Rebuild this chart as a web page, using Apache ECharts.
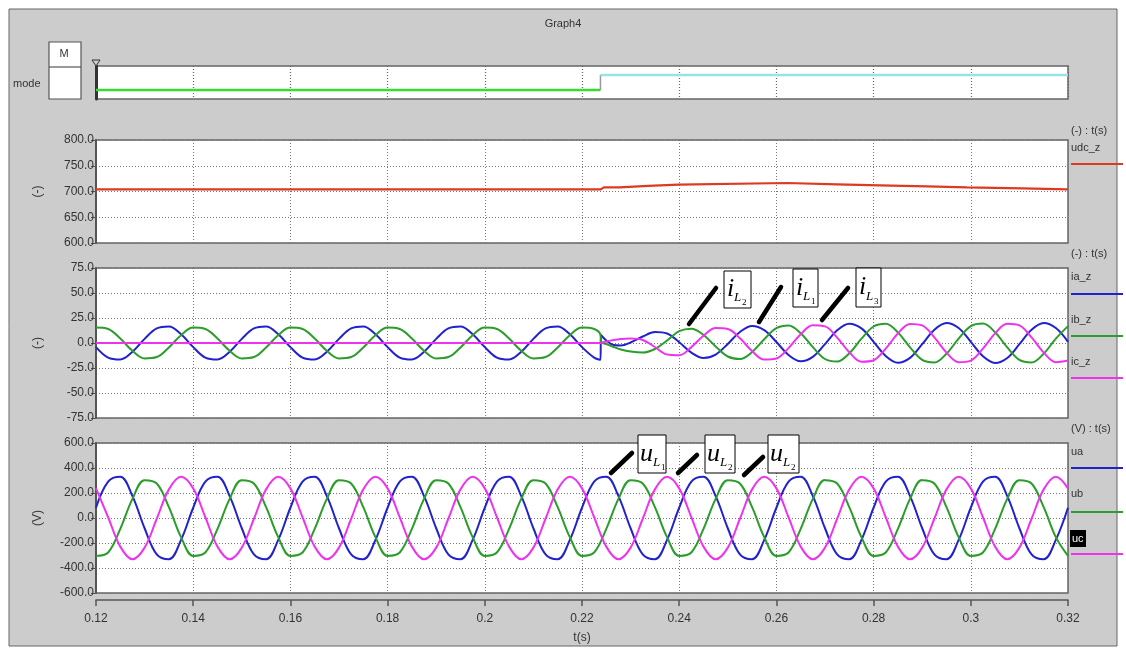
<!DOCTYPE html>
<html><head><meta charset="utf-8">
<script src="https://cdn.jsdelivr.net/npm/echarts@6/dist/echarts.min.js"></script>
<style>html,body{margin:0;padding:0;background:#fff}#c{width:1126px;height:650px}</style>
</head><body><div id="c"></div>
<script>
// ---------- DATA ----------
const modeT = [0.12, 0.2238, 0.2238, 0.32];
const modeV = [0, 0, 1, 1];

const tU  = [0.12, 0.2238, 0.2245, 0.2278, 0.2282, 0.2336, 0.234, 0.2398, 0.2402, 0.2622, 0.2626, 0.2725, 0.2729, 0.2813, 0.2817, 0.291, 0.2914, 0.2992, 0.2996, 0.3107, 0.3111, 0.32];
const udc = [704, 704, 708, 708, 711, 711, 713.5, 713.5, 716.5, 716.5, 714, 714, 712, 712, 710, 710, 708, 708, 706, 706, 704, 704];

const tI = [0.12, 0.1225, 0.125, 0.1275, 0.13, 0.1325, 0.135, 0.1375, 0.14, 0.1425, 0.145, 0.1475, 0.15, 0.1525, 0.155, 0.1575, 0.16, 0.1625, 0.165, 0.1675, 0.17, 0.1725, 0.175, 0.1775, 0.18, 0.1825, 0.185, 0.1875, 0.19, 0.1925, 0.195, 0.1975, 0.2, 0.2025, 0.205, 0.2075, 0.21, 0.2125, 0.215, 0.2175, 0.22, 0.2225,
  0.2238, 0.2239, 0.225, 0.2265, 0.228, 0.23, 0.2325, 0.235, 0.2375,
  0.24, 0.2425, 0.245, 0.2475, 0.25, 0.2525, 0.255, 0.2575, 0.26, 0.2625, 0.265, 0.2675, 0.27, 0.2725, 0.275, 0.2775, 0.28, 0.2825, 0.285, 0.2875, 0.29, 0.2925, 0.295, 0.2975, 0.3, 0.3025, 0.305, 0.3075, 0.31, 0.3125, 0.315, 0.3175, 0.32];
const ia = [-4.1, -14.6, -16.5, -8.8, 4.1, 14.6, 16.5, 8.8, -4.1, -14.6, -16.5, -8.8, 4.1, 14.6, 16.5, 8.8, -4.1, -14.6, -16.5, -8.8, 4.1, 14.6, 16.5, 8.8, -4.1, -14.6, -16.5, -8.8, 4.1, 14.6, 16.5, 8.8, -4.1, -14.6, -16.5, -8.8, 4.1, 14.6, 16.5, 8.8, -4.1, -14.6,
  -16.8, 8, 2.5, -2, -2.5, 0.5, 6.5, 11, 9.5,
  0.8, -9.6, -15.0, -11.6, -0.9, 11.0, 17.0, 12.9, 1.0, -12.0, -18.3, -13.9, -1.1, 12.7, 19.3, 14.6, 1.2, -13.1, -19.8, -14.9, -1.2, 13.3, 20.0, 15.0, 1.2, -13.3, -20.0, -15.0, -1.2, 13.3, 20.0, 15.0, 1.2];
const ib = [15.4, 14.0, 4.4, -7.8, -15.4, -14.0, -4.4, 7.8, 15.4, 14.0, 4.4, -7.8, -15.4, -14.0, -4.4, 7.8, 15.4, 14.0, 4.4, -7.8, -15.4, -14.0, -4.4, 7.8, 15.4, 14.0, 4.4, -7.8, -15.4, -14.0, -4.4, 7.8, 15.4, 14.0, 4.4, -7.8, -15.4, -14.0, -4.4, 7.8, 15.4, 14.0,
  8, 1, -1, -4, -6.5, -8.5, -9.5, -6, 2.5,
  11.8, 14.2, 8.0, -3.4, -13.5, -16.1, -9.1, 3.8, 14.9, 17.6, 9.8, -4.1, -16.0, -18.6, -10.3, 4.3, 16.5, 19.2, 10.6, -4.3, -16.9, -19.5, -10.7, 4.4, 16.9, 19.5, 10.7, -4.4, -16.9, -19.5, -10.7, 4.4, 16.9];
const ic = [0, 0, 0, 0, 0, 0, 0, 0, 0, 0, 0, 0, 0, 0, 0, 0, 0, 0, 0, 0, 0, 0, 0, 0, 0, 0, 0, 0, 0, 0, 0, 0, 0, 0, 0, 0, 0, 0, 0, 0, 0, 0,
  0, 0, 1.5, 3, 4, 4.5, 3, -4, -11.5,
  -12.3, -4.1, 7.2, 14.9, 14.0, 4.7, -8.1, -16.6, -15.5, -5.1, 8.8, 17.8, 16.6, 5.4, -9.2, -18.7, -17.2, -5.6, 9.5, 19.1, 17.6, 5.6, -9.6, -19.2, -17.6, -5.6, 9.6, 19.2, 17.6, 5.6, -9.6, -19.2, -17.6];

const t = [0.12, 0.1225, 0.125, 0.1275, 0.13, 0.1325, 0.135, 0.1375, 0.14, 0.1425, 0.145, 0.1475, 0.15, 0.1525, 0.155, 0.1575, 0.16, 0.1625, 0.165, 0.1675, 0.17, 0.1725, 0.175, 0.1775, 0.18, 0.1825, 0.185, 0.1875, 0.19, 0.1925, 0.195, 0.1975, 0.2, 0.2025, 0.205, 0.2075, 0.21, 0.2125, 0.215, 0.2175, 0.22, 0.2225, 0.225, 0.2275, 0.23, 0.2325, 0.235, 0.2375, 0.24, 0.2425, 0.245, 0.2475, 0.25, 0.2525, 0.255, 0.2575, 0.26, 0.2625, 0.265, 0.2675, 0.27, 0.2725, 0.275, 0.2775, 0.28, 0.2825, 0.285, 0.2875, 0.29, 0.2925, 0.295, 0.2975, 0.3, 0.3025, 0.305, 0.3075, 0.31, 0.3125, 0.315, 0.3175, 0.32];
const ua = [82, 291, 330, 175, -82, -291, -330, -175, 82, 291, 330, 175, -82, -291, -330, -175, 82, 291, 330, 175, -82, -291, -330, -175, 82, 291, 330, 175, -82, -291, -330, -175, 82, 291, 330, 175, -82, -291, -330, -175, 82, 291, 330, 175, -82, -291, -330, -175, 82, 291, 330, 175, -82, -291, -330, -175, 82, 291, 330, 175, -82, -291, -330, -175, 82, 291, 330, 175, -82, -291, -330, -175, 82, 291, 330, 175, -82, -291, -330, -175, 82];
const ub = [-303, -276, -87, 153, 303, 276, 87, -153, -303, -276, -87, 153, 303, 276, 87, -153, -303, -276, -87, 153, 303, 276, 87, -153, -303, -276, -87, 153, 303, 276, 87, -153, -303, -276, -87, 153, 303, 276, 87, -153, -303, -276, -87, 153, 303, 276, 87, -153, -303, -276, -87, 153, 303, 276, 87, -153, -303, -276, -87, 153, 303, 276, 87, -153, -303, -276, -87, 153, 303, 276, 87, -153, -303, -276, -87, 153, 303, 276, 87, -153, -303];
const uc = [237, 6, -229, -330, -237, -6, 229, 330, 237, 6, -229, -330, -237, -6, 229, 330, 237, 6, -229, -330, -237, -6, 229, 330, 237, 6, -229, -330, -237, -6, 229, 330, 237, 6, -229, -330, -237, -6, 229, 330, 237, 6, -229, -330, -237, -6, 229, 330, 237, 6, -229, -330, -237, -6, 229, 330, 237, 6, -229, -330, -237, -6, 229, 330, 237, 6, -229, -330, -237, -6, 229, 330, 237, 6, -229, -330, -237, -6, 229, 330, 237];

const panelNames = ['(-)', '(-)', '(V)'];
const legendHeads = ['(-) : t(s)', '(-) : t(s)', '(V) : t(s)'];

// ---------- CHART ----------
const FONT = "'Liberation Sans', Arial, sans-serif";
const C = { blue: '#2222cc', green: '#2a9d2a', mag: '#ee33ee', red: '#dd3a22', lime: '#33dd33', cyan: '#99e3e6' };
const pairs = (xs, ys) => xs.map((x, i) => [x, ys[i]]);

const L = 96, W = 972;
const grids = [
  { left: L, width: W, top: 66, height: 33 },
  { left: L, width: W, top: 140, height: 103 },
  { left: L, width: W, top: 268, height: 150 },
  { left: L, width: W, top: 443, height: 150 }
].map(g => Object.assign(g, { show: true, backgroundColor: '#fff', borderColor: '#666', borderWidth: 1.5, containLabel: false }));

const dotted = { show: true, lineStyle: { color: '#777', type: [1, 2], width: 1 } };
const xAxes = grids.map((g, i) => ({
  type: 'value', gridIndex: i, min: 0.12, max: 0.32, interval: 0.02,
  splitLine: i === 0 ? { show: true, lineStyle: { color: '#666', type: [1, 2], width: 1.2 } } : dotted,
  axisLine: i === 3 ? { show: true, onZero: false, lineStyle: { color: '#555', width: 1.5 } } : { show: false },
  offset: i === 3 ? 7 : 0,
  axisTick: i === 3 ? { show: true, length: 6, lineStyle: { color: '#555', width: 1.5 } } : { show: false },
  axisLabel: i === 3 ? { show: true, margin: 13, fontSize: 12, color: '#333', fontFamily: FONT,
    formatter: v => String(Math.round(v * 100) / 100) } : { show: false },
  name: i === 3 ? 't(s)' : '', nameLocation: 'middle', nameGap: 32,
  nameTextStyle: { fontSize: 12, color: '#333', fontFamily: FONT }
}));

const yCommon = (i, min, max, interval) => ({
  type: 'value', gridIndex: i, min, max, interval,
  axisLine: { show: true, onZero: false, lineStyle: { color: '#555', width: 2 } },
  axisTick: { show: true, length: 5, lineStyle: { color: '#555' } },
  axisLabel: { margin: 2, fontSize: 12, color: '#333', fontFamily: FONT, formatter: v => v.toFixed(1) },
  splitLine: dotted,
  name: panelNames[i - 1], nameLocation: 'middle', nameGap: 52, nameRotate: 90,
  nameTextStyle: { fontSize: 12, color: '#333', fontFamily: FONT }
});
const yAxes = [
  { type: 'value', gridIndex: 0, min: -0.6, max: 1.6, axisLine: { show: true, lineStyle: { color: '#333', width: 3 } },
    axisTick: { show: false }, axisLabel: { show: false }, splitLine: { show: false } },
  yCommon(1, 600, 800, 50),
  yCommon(2, -75, 75, 25),
  yCommon(3, -600, 600, 200)
];

const ln = (name, xi, data, color, w, smooth) => ({
  name, type: 'line', xAxisIndex: xi, yAxisIndex: xi, data, symbol: 'none', smooth: smooth || false,
  lineStyle: { color, width: w }, itemStyle: { color }, animation: false
});
const S = 0.37;
const series = [
  ln('mode0', 0, pairs(modeT.slice(0, 2), modeV.slice(0, 2)), C.lime, 2.5),
  ln('mode1', 0, pairs(modeT.slice(1, 3), modeV.slice(1, 3)), '#999', 1.5),
  ln('mode2', 0, pairs(modeT.slice(2, 4), modeV.slice(2, 4)), C.cyan, 2.5),
  ln('udc_z', 1, pairs(tU, udc), C.red, 2.2),
  ln('ia_z', 2, pairs(tI, ia), C.blue, 2, S),
  ln('ib_z', 2, pairs(tI, ib), C.green, 2, S),
  ln('ic_z', 2, pairs(tI, ic), C.mag, 2, S),
  ln('ua', 3, pairs(t, ua), C.blue, 2, S),
  ln('ub', 3, pairs(t, ub), C.green, 2, S),
  ln('uc', 3, pairs(t, uc), C.mag, 2, S)
];

// ---------- decorations ----------
const txt = (text, x, y, opt) => ({ type: 'text', z: 50, style: Object.assign({ text, x, y, fill: '#333', font: '11px ' + FONT, textAlign: 'left', textVerticalAlign: 'middle' }, opt || {}) });
const line = (x1, y1, x2, y2, stroke, w) => ({ type: 'line', z: 50, shape: { x1, y1, x2, y2 }, style: { stroke, lineWidth: w } });
const rect = (x, y, w, h, style) => ({ type: 'rect', z: 50, shape: { x, y, width: w, height: h }, style });

const els = [
  rect(0, 0, 1126, 9, { fill: '#fff' }), rect(0, 0, 9, 650, { fill: '#fff' }),
  rect(1117, 0, 9, 650, { fill: '#fff' }), rect(0, 646, 1126, 4, { fill: '#fff' }),
  rect(9, 9, 1108, 637, { fill: 'none', stroke: '#666', lineWidth: 1 }),
  txt('Graph4', 563, 24, { textAlign: 'center' }),
  rect(49, 42, 32, 57, { fill: '#fff', stroke: '#555', lineWidth: 1.2 }),
  line(49, 67, 81, 67, '#555', 1.2),
  txt('M', 64, 54, { textAlign: 'center' }),
  txt('mode', 13, 84),
  { type: 'polygon', z: 50, shape: { points: [[92, 60], [100, 60], [96, 66]] }, style: { fill: '#ccc', stroke: '#333', lineWidth: 1 } },
  // legends
  txt(legendHeads[0], 1071, 131), txt('udc_z', 1071, 148), line(1071, 164, 1123, 164, C.red, 2),
  txt(legendHeads[1], 1071, 254),
  txt('ia_z', 1071, 277), line(1071, 294, 1123, 294, C.blue, 2),
  txt('ib_z', 1071, 320), line(1071, 336, 1123, 336, C.green, 2),
  txt('ic_z', 1071, 362), line(1071, 378, 1123, 378, C.mag, 2),
  txt(legendHeads[2], 1071, 429),
  txt('ua', 1071, 452), line(1071, 468, 1123, 468, C.blue, 2),
  txt('ub', 1071, 494), line(1071, 512, 1123, 512, C.green, 2),
  rect(1070, 530, 16, 17, { fill: '#000' }), txt('uc', 1072, 538.5, { fill: '#fff' }),
  line(1071, 554, 1123, 554, C.mag, 2)
];

// annotation boxes: [boxX, boxY, boxW, boxH, main letter, sub digit, pointer x1,y1,x2,y2]
const notes = [
  [724, 271, 27, 37, 'i', '2', 716, 288, 689, 324],
  [793, 269, 25, 38, 'i', '1', 781, 287, 759, 322],
  [856, 268, 25, 39, 'i', '3', 848, 288, 822, 320],
  [638, 435, 28, 38, 'u', '1', 632, 453, 611, 473],
  [705, 435, 30, 38, 'u', '2', 697, 455, 678, 473],
  [768, 435, 31, 38, 'u', '2', 763, 457, 744, 475]
];
const SERIF = "'Liberation Serif', 'DejaVu Serif', serif";
notes.forEach(n => {
  const [bx, by, bw, bh, m, d, x1, y1, x2, y2] = n;
  els.push(rect(bx, by, bw, bh, { fill: '#fff', stroke: '#000', lineWidth: 1 }));
  els.push({ type: 'line', z: 50, shape: { x1, y1, x2, y2 }, style: { stroke: '#000', lineWidth: 4.5, lineCap: 'round' } });
  const isU = m === 'u';
  els.push(txt(m, bx + (isU ? 2 : 3), by + bh * 0.5, { font: 'italic 26px ' + SERIF, fill: '#000' }));
  els.push(txt('L', bx + (isU ? 15 : 10), by + bh * 0.72, { font: 'italic 13px ' + SERIF, fill: '#000' }));
  els.push(txt(d, bx + (isU ? 23 : 18), by + bh * 0.85, { font: '9px ' + SERIF, fill: '#000' }));
});

const chart = echarts.init(document.getElementById('c'), null, { renderer: 'canvas' });
chart.setOption({
  backgroundColor: '#cccccc',
  animation: false,
  grid: grids, xAxis: xAxes, yAxis: yAxes, series,
  graphic: { elements: els }
});
</script></body></html>
